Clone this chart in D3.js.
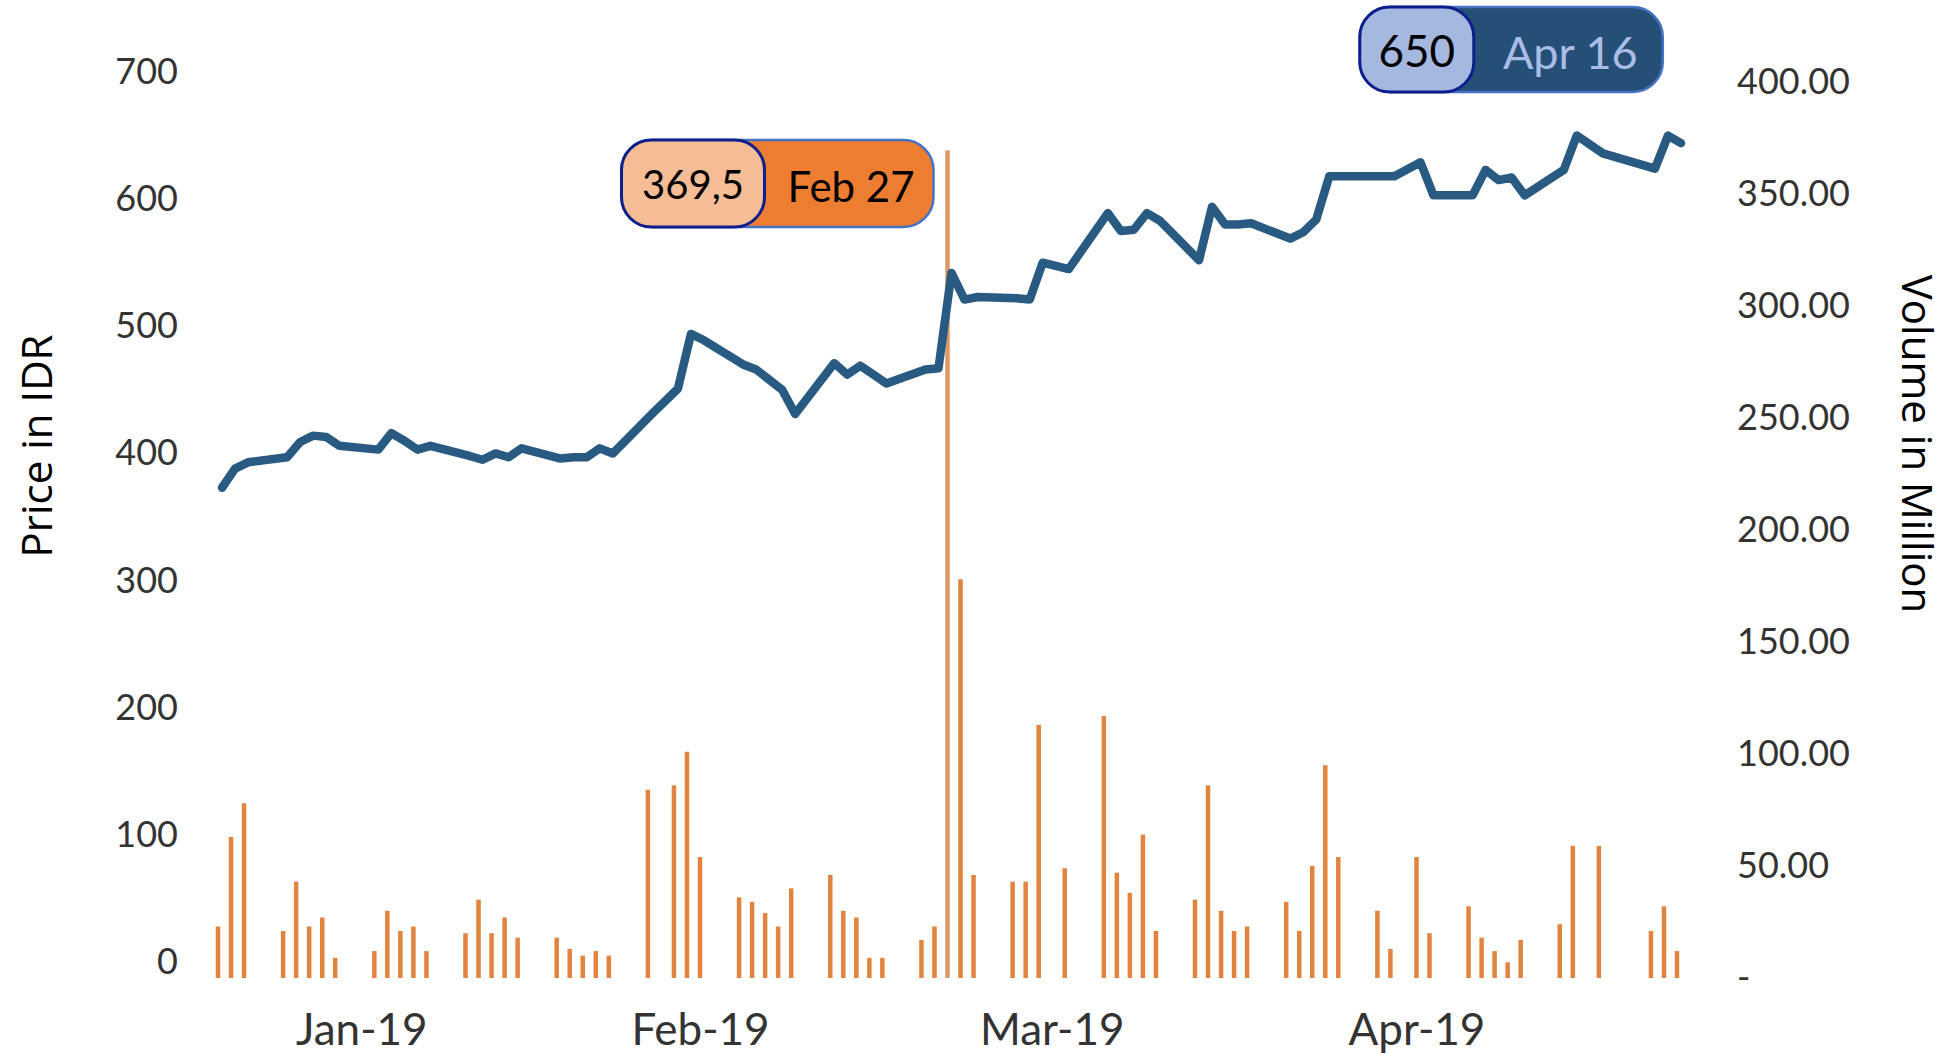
<!DOCTYPE html>
<html lang="en">
<head>
  <meta charset="UTF-8">
  <title>Price and Volume</title>
  <script src="https://d3js.org/d3.v7.min.js"></script>
  <style>
    body {
      margin: 0;
      background: #fff;
      overflow: hidden;
    }
    .tick text {
      font-family: Lato, "Open Sans", sans-serif;
      fill: #333;
    }
    .axis-title {
      font-family: "Open Sans", sans-serif;
      font-size: 42px;
      fill: #000;
    }
    .callout text {
      font-family: Lato, "Open Sans", sans-serif;
    }
  </style>
</head>
<body>
  <svg id="chart" width="1952" height="1053"></svg>
  <script>
    // trading days shown on the chart
    const dates = [
      "2019-01-02","2019-01-03","2019-01-04","2019-01-07","2019-01-08","2019-01-09","2019-01-10","2019-01-11",
      "2019-01-14","2019-01-15","2019-01-16","2019-01-17","2019-01-18","2019-01-21","2019-01-22","2019-01-23",
      "2019-01-24","2019-01-25","2019-01-28","2019-01-29","2019-01-30","2019-01-31",
      "2019-02-01","2019-02-04","2019-02-06","2019-02-07","2019-02-08","2019-02-11","2019-02-12","2019-02-13",
      "2019-02-14","2019-02-15","2019-02-18","2019-02-19","2019-02-20","2019-02-21","2019-02-22","2019-02-25",
      "2019-02-26","2019-02-27","2019-02-28",
      "2019-03-01","2019-03-04","2019-03-05","2019-03-06","2019-03-08","2019-03-11","2019-03-12","2019-03-13",
      "2019-03-14","2019-03-15","2019-03-18","2019-03-19","2019-03-20","2019-03-21","2019-03-22","2019-03-25",
      "2019-03-26","2019-03-27","2019-03-28","2019-03-29",
      "2019-04-01","2019-04-02","2019-04-04","2019-04-05","2019-04-08","2019-04-09","2019-04-10","2019-04-11",
      "2019-04-12","2019-04-15","2019-04-16","2019-04-18","2019-04-22","2019-04-23","2019-04-24"
    ];

    // closing price (IDR)
    const price = [
      373,388,393,397,409,414,413,406,403,416,410,403,406,398,395,400,397,404,396,397,397,404,
      400,431,451,494,489,470,466,458,450,431,471,462,469,462,455,466,467,542,521,
      523,522,521,550,545,589,575,576,589,583,552,594,580,580,581,569,574,584,618,618,
      618,618,629,603,603,623,615,617,603,623,650,636,624,650,644
    ];

    // traded volume (million)
    const volume = [
      23,63,78,21,43,23,27,9,12,30,21,23,12,20,35,20,27,18,18,13,10,12,
      10,84,86,101,54,36,34,29,23,40,46,30,27,9,9,17,23,369.5,178,
      46,43,43,113,49,117,47,38,64,21,35,86,30,21,23,34,21,50,95,54,
      30,13,54,20,32,18,12,7,17,24,59,59,21,32,12
    ];

    const monthTickDates = ["2019-01-13","2019-02-08","2019-03-07","2019-04-04"];
    const monthTickLabels = ["Jan-19","Feb-19","Mar-19","Apr-19"];
    const priceTicks = [0,100,200,300,400,500,600,700];
    const volumeTicks = [0,50,100,150,200,250,300,350,400];

    const calloutDates = ["2019-02-27","2019-04-16"];
    const calloutValues = ["369,5","650"];
    const calloutLabels = ["Feb 27","Apr 16"];

    const parse = d3.utcParse("%Y-%m-%d");
    const rows = dates.map((d, i) => ({ date: parse(d), price: price[i], volume: volume[i] }));

    const svg = d3.select("#chart");

    // scales (the two value axes do not share the same baseline in the picture)
    const x = d3.scaleUtc()
      .domain([parse("2019-01-02"), parse("2019-04-24")])
      .range([218, 1677]);
    const xLine = x.copy().range([222, 1681]);
    const yPrice = d3.scaleLinear().domain([0, 700]).range([962, 72]);
    const yVol = d3.scaleLinear().domain([0, 400]).range([978, 82]);

    // volume bars
    const barW = 4.5;
    svg.append("g")
      .selectAll("rect")
      .data(rows)
      .join("rect")
      .attr("x", d => x(d.date) - barW / 2)
      .attr("y", d => yVol(d.volume))
      .attr("width", barW)
      .attr("height", d => yVol(0) - yVol(d.volume))
      .attr("fill", d => d.volume > 300 ? "#d99a68" : "#e0843f");

    // price line
    const line = d3.line()
      .x(d => xLine(d.date))
      .y(d => yPrice(d.price));

    svg.append("path")
      .datum(rows)
      .attr("d", line)
      .attr("fill", "none")
      .attr("stroke", "#285a82")
      .attr("stroke-width", 8.5)
      .attr("stroke-linejoin", "round")
      .attr("stroke-linecap", "round");

    // left axis
    const leftAxis = svg.append("g")
      .attr("transform", "translate(178,0)")
      .call(d3.axisLeft(yPrice).tickValues(priceTicks).tickSize(0).tickPadding(0));
    leftAxis.select(".domain").remove();
    leftAxis.selectAll("text").style("font-size", "36px");

    // right axis
    const rightAxis = svg.append("g")
      .attr("transform", "translate(1737,0)")
      .call(d3.axisRight(yVol).tickValues(volumeTicks).tickSize(0).tickPadding(0)
        .tickFormat(d => d === 0 ? "-" : d3.format(".2f")(d)));
    rightAxis.select(".domain").remove();
    rightAxis.selectAll("text").style("font-size", "36px");

    // bottom axis, month labels
    const bottomAxis = svg.append("g")
      .attr("transform", "translate(0,1030)")
      .call(d3.axisBottom(x).tickValues(monthTickDates.map(parse)).tickSize(0).tickPadding(0)
        .tickFormat((d, i) => monthTickLabels[i]));
    bottomAxis.select(".domain").remove();
    bottomAxis.selectAll("text")
      .style("font-size", "44px")
      .attr("y", 0)
      .attr("dy", "0.35em");

    // axis titles
    svg.append("text")
      .attr("class", "axis-title")
      .attr("transform", "translate(35,446) rotate(-90)")
      .attr("text-anchor", "middle")
      .attr("dominant-baseline", "central")
      .text("Price in IDR");

    svg.append("text")
      .attr("class", "axis-title")
      .attr("transform", "translate(1918,444) rotate(90)")
      .attr("text-anchor", "middle")
      .attr("dominant-baseline", "central")
      .text("Volume in Million");

    // callouts
    const calloutStyle = [
      { dx: -326, top: 140, w: 312, h: 87, leftW: 143, dark: "#ed7d31", light: "#f5bd96",
        valueColor: "#000", labelColor: "#000", valueSize: 40, labelSize: 42 },
      { dx: -213, top: 7, w: 303, h: 85, leftW: 114, dark: "#264f78", light: "#a4b8e0",
        valueColor: "#000", labelColor: "#a9bde5", valueSize: 44, labelSize: 45 }
    ];

    calloutDates.forEach((d, i) => {
      const s = calloutStyle[i];
      const left = x(parse(d)) + s.dx;
      const g = svg.append("g").attr("class", "callout");

      g.append("rect")
        .attr("x", left).attr("y", s.top)
        .attr("width", s.w).attr("height", s.h)
        .attr("rx", 30).attr("ry", 30)
        .attr("fill", s.dark)
        .attr("stroke", "#4472c4").attr("stroke-width", 2.5);

      g.append("rect")
        .attr("x", left).attr("y", s.top)
        .attr("width", s.leftW).attr("height", s.h)
        .attr("rx", 30).attr("ry", 30)
        .attr("fill", s.light)
        .attr("stroke", "#0d1f8c").attr("stroke-width", 3);

      g.append("text")
        .attr("x", left + s.leftW / 2)
        .attr("y", s.top + s.h / 2)
        .attr("text-anchor", "middle")
        .attr("dominant-baseline", "central")
        .style("font-size", s.valueSize + "px")
        .attr("fill", s.valueColor)
        .text(calloutValues[i]);

      g.append("text")
        .attr("x", left + s.leftW + (s.w - s.leftW) / 2 + 2)
        .attr("y", s.top + s.h / 2 + 2)
        .attr("text-anchor", "middle")
        .attr("dominant-baseline", "central")
        .style("font-size", s.labelSize + "px")
        .attr("fill", s.labelColor)
        .text(calloutLabels[i]);
    });
  </script>
</body>
</html>
